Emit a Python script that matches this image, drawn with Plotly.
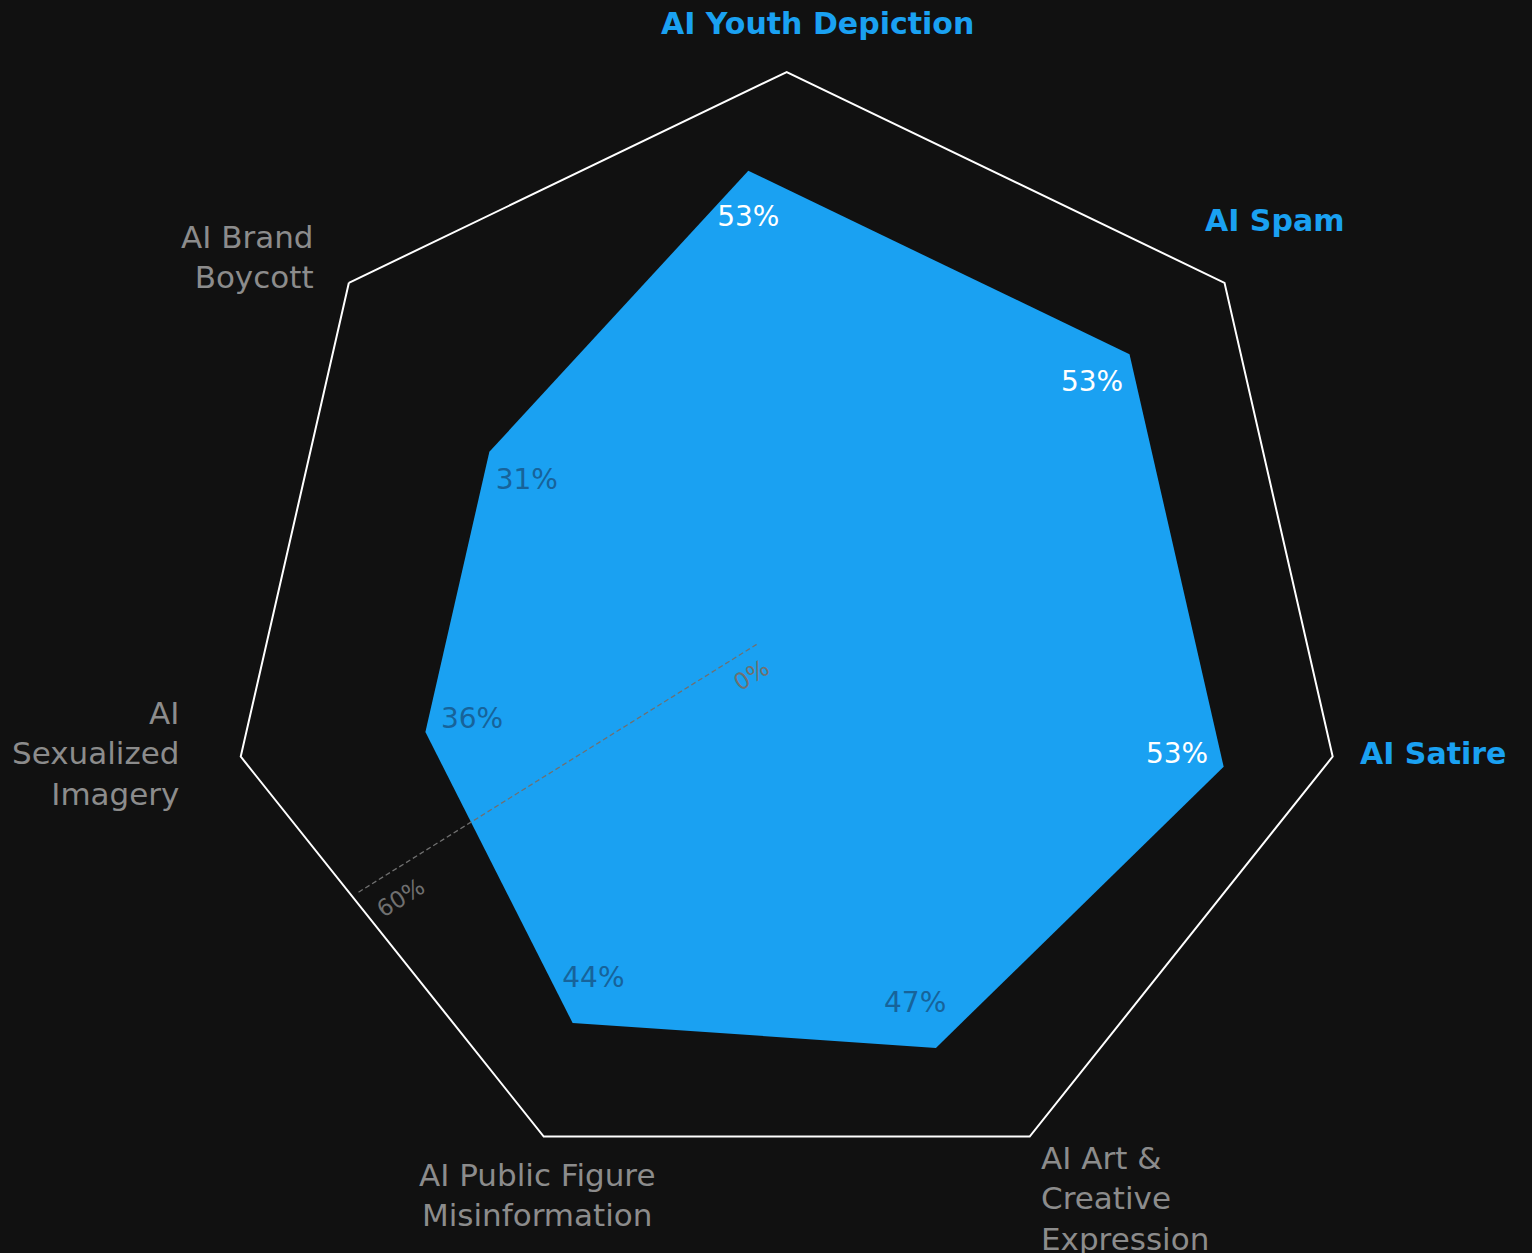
import plotly.graph_objects as go

# ---------------- data ----------------
categories = [
    "AI Youth Depiction",
    "AI Spam",
    "AI Satire",
    "AI Art & Creative Expression",
    "AI Public Figure Misinformation",
    "AI Sexualized Imagery",
    "AI Brand Boycott",
]
category_display = [
    "AI Youth Depiction",
    "AI Spam",
    "AI Satire",
    "AI Art &<br>Creative<br>Expression",
    "AI Public Figure<br>Misinformation",
    "AI<br>Sexualized<br>Imagery",
    "AI Brand<br>Boycott",
]
values = [53, 53, 53, 47, 44, 36, 36]          # plotted shape as drawn
value_labels = ["53%", "53%", "53%", "47%", "44%", "36%", "31%"]
highlighted = [True, True, True, False, False, False, False]
radial_range = [0, 60]
radial_ticks = [0, 60]
radial_tick_text = ["0%", "60%"]

# ---------------- styles ----------------
W, H = 1532, 1253
BG = "#111111"
BLUE = "#1AA1F2"
GRAY = "#8C8C8C"
AXIS_GRAY = "#707070"
DARK_LABEL = "#17639A"
FONT = "DejaVu Sans"
AXIS_ANGLE = 211.9


def dom(cx, cy, r):
    return dict(x=[(cx - r) / W, (cx + r) / W],
                y=[(H - cy - r) / H, (H - cy + r) / H])


fig = go.Figure()

# grid subplot (outer heptagon)
fig.add_trace(go.Scatterpolar(r=[None] * len(categories), theta=categories,
                              subplot="polar", showlegend=False, hoverinfo="skip"))

# data subplot
fig.add_trace(go.Scatterpolar(
    r=values + [values[0]], theta=categories + [categories[0]],
    subplot="polar2", mode="lines", fill="toself",
    fillcolor=BLUE, line=dict(color=BLUE, width=0), showlegend=False,
))
label_r = [v - 5.2 for v in values]
fig.add_trace(go.Scatterpolar(
    r=label_r, theta=categories, subplot="polar2", mode="text",
    text=value_labels, textposition="middle center",
    textfont=dict(family=FONT, size=28,
                  color=["#FFFFFF" if h else DARK_LABEL for h in highlighted]),
    showlegend=False, hoverinfo="skip",
))

# radial axis subplot: dashed axis line
fig.add_trace(go.Scatterpolar(
    r=radial_range, theta=[AXIS_ANGLE, AXIS_ANGLE], subplot="polar3",
    mode="lines", line=dict(color=AXIS_GRAY, width=1.3, dash="5px,3px"),
    showlegend=False, hoverinfo="skip",
))

hidden_radial = dict(visible=False, range=radial_range)
fig.update_layout(
    width=W, height=H,
    paper_bgcolor=BG, plot_bgcolor=BG,
    margin=dict(l=0, r=0, t=0, b=0),
    font=dict(family=FONT, color=GRAY),
    polar=dict(
        domain=dom(786.7, 632.0, 560),
        bgcolor="rgba(0,0,0,0)",
        gridshape="linear",
        angularaxis=dict(rotation=90, direction="clockwise", categoryarray=categories,
                         showline=True, linecolor="#FFFFFF", linewidth=2,
                         showgrid=False, showticklabels=False, ticks=""),
        radialaxis=hidden_radial,
    ),
    polar2=dict(
        domain=dom(748.3, 658.3, 552),
        bgcolor="rgba(0,0,0,0)",
        gridshape="linear",
        angularaxis=dict(rotation=90, direction="clockwise", categoryarray=categories,
                         showline=False, showgrid=False, showticklabels=False, ticks=""),
        radialaxis=hidden_radial,
    ),
    polar3=dict(
        domain=dom(784.4, 627.1, 502.5),
        bgcolor="rgba(0,0,0,0)",
        hole=0.065,
        angularaxis=dict(visible=False, rotation=0, direction="counterclockwise"),
        radialaxis=dict(range=radial_range, angle=AXIS_ANGLE, tickvals=radial_ticks,
                        showticklabels=False, showline=False, showgrid=False, ticks=""),
    ),
)

# radial tick labels, written along the axis direction
tick_label_pos = [(751.5, 675), (400, 897.5)]
for txt, (px, py) in zip(radial_tick_text, tick_label_pos):
    fig.add_annotation(
        text=txt, xref="paper", yref="paper", x=px / W, y=1 - py / H,
        xanchor="center", yanchor="middle", showarrow=False,
        textangle=-(AXIS_ANGLE - 180),
        font=dict(family=FONT, size=23, color=AXIS_GRAY),
    )

# category labels (pixel positions of label blocks)
label_layout = [
    dict(x=817, y=23, xanchor="center", align="center"),
    dict(x=1274, y=220, xanchor="center", align="center"),
    dict(x=1433, y=753, xanchor="center", align="center"),
    dict(x=1039, y=1198, xanchor="left", align="left"),
    dict(x=537, y=1194.5, xanchor="center", align="center"),
    dict(x=181, y=753, xanchor="right", align="right"),
    dict(x=316, y=257, xanchor="right", align="right"),
]
for txt, hl, pos in zip(category_display, highlighted, label_layout):
    fig.add_annotation(
        text=txt, xref="paper", yref="paper",
        x=pos["x"] / W, y=1 - pos["y"] / H,
        xanchor=pos["xanchor"], yanchor="middle", align=pos["align"],
        showarrow=False,
        font=dict(family=FONT, size=30 if hl else 31, color=BLUE if hl else GRAY,
                  weight="bold" if hl else "normal"),
    )

fig.write_html(
    "out.html",
    config={"displayModeBar": False},
    post_script="document.body.style.margin='0';document.body.style.background='#111111';",
)
